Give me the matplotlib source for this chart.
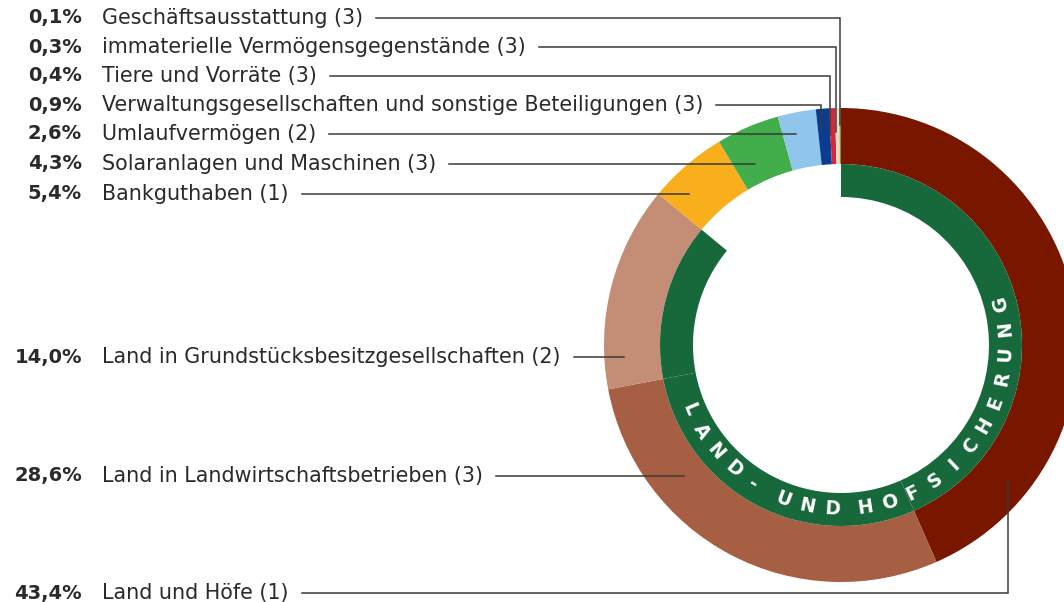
import matplotlib.pyplot as plt
import numpy as np

# clockwise from 12 o'clock
categories = ['Land und Höfe (1)',
              'Land in Landwirtschaftsbetrieben (3)',
              'Land in Grundstücksbesitzgesellschaften (2)',
              'Bankguthaben (1)',
              'Solaranlagen und Maschinen (3)',
              'Umlaufvermögen (2)',
              'Verwaltungsgesellschaften und sonstige Beteiligungen (3)',
              'Tiere und Vorräte (3)',
              'immaterielle Vermögensgegenstände (3)',
              'Geschäftsausstattung (3)']
shares = [43.4, 28.6, 14.0, 5.4, 4.3, 2.6, 0.9, 0.4, 0.3, 0.1]
colors = ['#781600', '#a65f42', '#c48d76', '#f9af1c', '#42ae4b',
          '#90c6eb', '#0a3d8f', '#d7263a', '#e8dec3', '#8c9140']
land_shares = shares[:3]
ring_label = 'LAND- UND HOFSICHERUNG'

green = '#17693c'
txt_col = '#2a2a2a'
line_col = '#3a3a3a'

W, H = 1064, 602
fig = plt.figure(figsize=(W / 100, H / 100), dpi=100)
ax = fig.add_axes([0, 0, 1, 1])

cx, cy = 841, H - 345
ax.pie(shares, colors=colors, radius=237, center=(cx, cy), startangle=90,
       counterclock=False, wedgeprops=dict(width=56, linewidth=0))
ax.pie(land_shares + [100 - sum(land_shares)], colors=[green] * 3 + ['none'],
       radius=181, center=(cx, cy), startangle=90, counterclock=False,
       wedgeprops=dict(width=33, linewidth=0))
ax.set_xlim(0, W)
ax.set_ylim(0, H)
ax.set_aspect('equal')
ax.axis('off')

# curved ring text
ang = 203.0
r_txt = 164.5
for ch in ring_label:
    if ch == ' ':
        ang += 3.0
        continue
    a = np.deg2rad(ang)
    ax.text(cx + r_txt * np.cos(a), cy + r_txt * np.sin(a), ch, color='white',
            fontsize=13.5, fontweight='heavy', ha='center', va='center',
            rotation=ang + 90, rotation_mode='anchor')
    ang += 8.7

# labels, top to bottom
label_y = [18, 47, 76, 105, 134, 164, 194, 357, 476, 593]
# leader line ends (x_end, y_end) in image pixels
line_ends = [(840, 125), (836, 132), (830, 135), (821, 130), (796, None),
             (755, None), (689, None), (624, None), (684, None), (1008, 481)]

texts = []
for i, (cat, val) in enumerate(zip(categories[::-1], shares[::-1])):
    y = H - label_y[i]
    pct = f'{val:.1f}'.replace('.', ',') + '%'
    ax.text(82, y, pct, ha='right', va='center', fontsize=14,
            fontweight='bold', color=txt_col)
    t = ax.text(102, y, cat, ha='left', va='center', fontsize=14.9,
                color=txt_col)
    texts.append(t)

fig.canvas.draw()
rend = fig.canvas.get_renderer()
for i, t in enumerate(texts):
    bb = t.get_window_extent(rend)
    y = H - label_y[i]
    xe, ye = line_ends[i]
    xs = [bb.x1 + 13, xe]
    ys = [y, y]
    if ye is not None:
        xs.append(xe)
        ys.append(H - ye)
    ax.plot(xs, ys, color=line_col, lw=1.1, solid_joinstyle='miter')

fig.savefig('out.png', dpi=100)
